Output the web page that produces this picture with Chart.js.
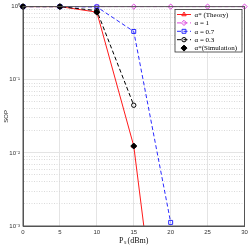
<!DOCTYPE html>
<html>
<head>
<meta charset="utf-8">
<script src="https://cdn.jsdelivr.net/npm/chart.js@4.4.0/dist/chart.umd.min.js"></script>
<style>
  html, body {margin: 0; padding: 0; background: #fff;}
  #contenedor {width: 251px; height: 245px;}
</style>
</head>
<body>
<div id="contenedor"><canvas id="graficoSop" width="251" height="245"></canvas></div>
<script>
// datos (SOP vs Ps)
const potencias = [0, 5, 10, 15, 20, 25, 30];
const sopTeoria = [1, 1, 0.84, 0.0124, 1.2e-6, null, null];
const sopAlfa1 = [1, 1, 1, 1, 1, 1, 1];
const sopAlfa07 = [1, 1, 0.99, 0.457, 0.00112, null, null];
const sopAlfa03 = [1, 1, 0.88, 0.0448, null, null, null];
const sopSimulacion = [1, 1, 0.84, 0.0124, null, null, null];

const ticksX = [0, 5, 10, 15, 20, 25, 30];
const ticksY = [0.001, 0.01, 0.1, 1];
const etiquetasY = ['10⁻³', '10⁻²', '10⁻¹', '10⁰'];
const etiquetasLeyenda = ['α* (Theory)', 'α = 1', 'α = 0.7', 'α = 0.3', 'α*(Simulation)'];

const puntos = serie => potencias.map((x, i) => ({x: x, y: serie[i]}));
const guion = [4, 2.5];
const sinRelleno = 'rgba(0,0,0,0)';

// ticks menores del eje log (2..9 x 10^n)
const ticksYTodos = [];
ticksY.forEach((v, i) => {
  ticksYTodos.push({value: v, major: true});
  if (i < ticksY.length - 1) {
    for (let k = 2; k <= 9; k++) ticksYTodos.push({value: +(k * v).toPrecision(3), major: false});
  }
});

const marcoEjes = {
  id: 'marcoEjes',
  afterDatasetsDraw(chart) {
    const {ctx, chartArea: a} = chart;
    ctx.save();
    ctx.strokeStyle = '#555';
    ctx.lineWidth = 1;
    ctx.strokeRect(a.left, a.top, a.right - a.left, a.bottom - a.top);
    ctx.restore();
  }
};

const leyenda = {
  id: 'leyenda',
  afterDraw(chart) {
    const ctx = chart.ctx;
    const x0 = 175, y0 = 9.5, ancho = 67, alto = 42.5, fila = 8.4;
    ctx.save();
    ctx.fillStyle = '#fff';
    ctx.fillRect(x0, y0, ancho, alto);
    ctx.strokeStyle = '#333';
    ctx.lineWidth = 0.8;
    ctx.strokeRect(x0, y0, ancho, alto);
    chart.data.datasets.forEach((ds, i) => {
      const y = y0 + 5 + i * fila;
      if (ds.showLine !== false) {
        ctx.strokeStyle = ds.borderColor;
        ctx.lineWidth = ds.borderWidth;
        ctx.setLineDash(ds.borderDash || []);
        ctx.beginPath();
        ctx.moveTo(x0 + 2, y);
        ctx.lineTo(x0 + 16, y);
        ctx.stroke();
        ctx.setLineDash([]);
      }
      ctx.strokeStyle = ds.pointBorderColor;
      ctx.fillStyle = ds.pointBackgroundColor;
      ctx.lineWidth = 1;
      Chart.helpers.drawPoint(ctx, {pointStyle: ds.pointStyle, radius: ds.pointRadius, rotation: 0, borderWidth: 1}, x0 + 9, y);
      ctx.fillStyle = '#000';
      ctx.font = '7px "Liberation Serif", "Times New Roman", serif';
      ctx.textBaseline = 'middle';
      ctx.textAlign = 'left';
      ctx.fillText(etiquetasLeyenda[i], x0 + 19.5, y + 0.5);
    });
    ctx.restore();
  }
};

const ctxSop = document.getElementById('graficoSop');
new Chart(ctxSop, {
  type: 'line',
  data: {
    datasets: [
      {label: etiquetasLeyenda[0], data: puntos(sopTeoria), borderColor: '#ff1a1a', borderWidth: 1, pointStyle: 'triangle', pointRadius: 2.5, pointBorderColor: '#ff1a1a', pointBackgroundColor: sinRelleno, order: 4},
      {label: etiquetasLeyenda[1], data: puntos(sopAlfa1), borderColor: '#dd44dd', borderWidth: 1, borderDash: guion, pointStyle: 'rectRot', pointRadius: 2.6, pointBorderColor: '#dd44dd', pointBackgroundColor: sinRelleno, order: 3},
      {label: etiquetasLeyenda[2], data: puntos(sopAlfa07), borderColor: '#2a2aff', borderWidth: 1, borderDash: guion, pointStyle: 'rect', pointRadius: 2.8, pointBorderColor: '#2a2aff', pointBackgroundColor: sinRelleno, order: 2},
      {label: etiquetasLeyenda[3], data: puntos(sopAlfa03), borderColor: '#000', borderWidth: 1, borderDash: guion, pointStyle: 'circle', pointRadius: 2.2, pointBorderColor: '#000', pointBackgroundColor: sinRelleno, order: 1},
      {label: etiquetasLeyenda[4], data: puntos(sopSimulacion), showLine: false, borderColor: '#000', borderWidth: 1, pointStyle: 'rectRot', pointRadius: 3, pointBorderColor: '#000', pointBackgroundColor: '#000', order: 0}
    ]
  },
  options: {
    responsive: false,
    animation: false,
    clip: {left: 6, top: 6, right: 6, bottom: 0},
    layout: {padding: {top: 5, right: 6.5, left: 0, bottom: 0}},
    elements: {line: {tension: 0}, point: {borderWidth: 1, hoverRadius: 0}},
    plugins: {legend: {display: false}, tooltip: {enabled: false}},
    scales: {
      x: {
        type: 'linear', min: 0, max: 30,
        afterBuildTicks: s => { s.ticks = ticksX.map(v => ({value: v})); },
        afterFit: s => { s.height = 19; },
        grid: {color: '#e4e4e4', lineWidth: 1, drawTicks: false},
        border: {display: true, color: '#555'},
        ticks: {font: {family: '"Liberation Sans", Arial, sans-serif', size: 6}, color: '#333', padding: 3, maxRotation: 0, autoSkip: false},
        title: {display: true, text: 'Pₛ (dBm)', font: {family: '"Liberation Serif", "Times New Roman", serif', size: 8, lineHeight: 1}, color: '#111', padding: {top: 0, bottom: 0}}
      },
      y: {
        type: 'logarithmic', min: 0.001, max: 1,
        afterBuildTicks: s => { s.ticks = ticksYTodos.map(t => ({value: t.value, major: t.major})); },
        afterFit: s => { s.width = 23; },
        grid: {color: c => (c.tick && !c.tick.major) ? '#dadada' : '#e4e4e4', lineWidth: 1, drawTicks: false},
        border: {display: true, color: '#555', dash: c => (c.tick && !c.tick.major) ? [1, 1.5] : []},
        ticks: {
          font: {family: '"Liberation Sans", Arial, sans-serif', size: 6}, color: '#333', padding: 3, autoSkip: false,
          callback: v => { const i = ticksY.indexOf(v); return i >= 0 ? etiquetasY[i] : ''; }
        },
        title: {display: true, text: 'SOP', font: {family: '"Liberation Sans", Arial, sans-serif', size: 6, lineHeight: 1.2}, color: '#222', padding: {top: 3, bottom: 0}}
      }
    }
  },
  plugins: [marcoEjes, leyenda]
});
</script>
</body>
</html>
